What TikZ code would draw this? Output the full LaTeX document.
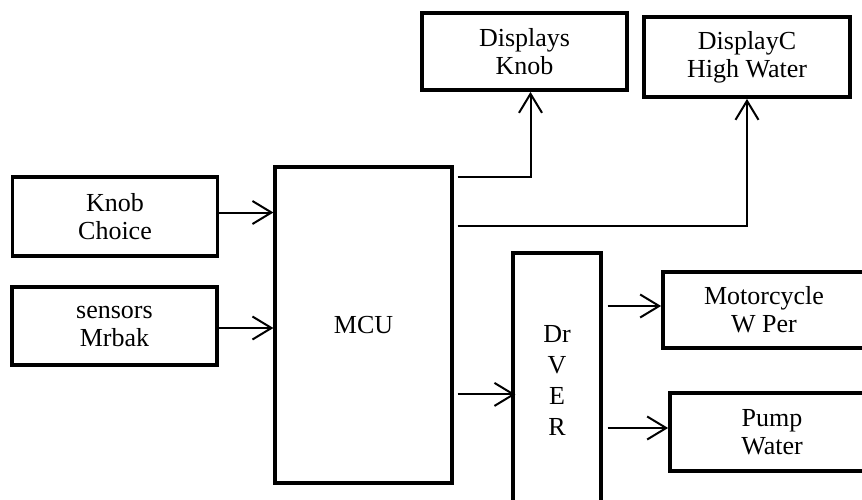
\documentclass[tikz,border=0pt]{standalone}
\usepackage{fontspec}
\setmainfont{Liberation Serif}
\usetikzlibrary{arrows.meta}

\begin{document}
\begin{tikzpicture}[x=1pt, y=-1pt,
    box/.style={draw, line width=3.8pt, align=center, inner sep=0pt,
        font=\fontsize{26}{28}\selectfont},
    tall/.style={draw, line width=3.2pt, align=center, inner sep=0pt,
        font=\fontsize{26}{31}\selectfont},
    link/.style={line width=2pt, -{Straight Barb[length=19pt, width=23pt, line width=2pt]}}]
    \useasboundingbox (0, 0) rectangle (862, 499);
    \clip (0, 0) rectangle (862, 499);

    % Inputs
    \node[box, minimum width=205pt, minimum height=79pt] (knob) at (115, 216.5) {Knob\\Choice};
    \node[box, minimum width=205pt, minimum height=78pt] (sens) at (114.5, 326) {sensors\\Mrbak};

    % Controller and driver
    \node[tall, minimum width=177pt, minimum height=316pt] (mcu) at (363.5, 325) {MCU};
    \node[tall, minimum width=88pt, minimum height=254pt] (drv) at (557, 380) {Dr\\V\\E\\R};

    % Displays
    \node[box, minimum width=205pt, minimum height=77pt] (disp) at (524.5, 51.5) {Displays\\Knob};
    \node[box, minimum width=206pt, minimum height=80pt] (dispc) at (747, 57) {DisplayC\\High Water};

    % Outputs
    \node[box, minimum width=202pt, minimum height=76pt] (moto) at (764, 310) {Motorcycle\\W Per};
    \node[box, minimum width=204pt, minimum height=78pt] (pump) at (772, 432) {Pump\\Water};

    % Arrows
    \draw[link] ([shift={(0,-4)}]knob.east) -- ([shift={(0,-4)}]knob.east -| mcu.west);
    \draw[link] ([shift={(0,2)}]sens.east) -- ([shift={(0,2)}]sens.east -| mcu.west);
    \draw[link] ([shift={(4,12)}]mcu.north east) -| ([shift={(6,0)}]disp.south);
    \draw[link] ([shift={(4,61)}]mcu.north east) -| (dispc.south);
    \draw[link] ([shift={(4,229)}]mcu.north east) -- ([shift={(4,229)}]mcu.north east -| drv.west);
    \draw[link] ([shift={(5,-4)}]drv.east |- moto.west) -- ([shift={(0,-4)}]moto.west);
    \draw[link] ([shift={(5,-4)}]drv.east |- pump.west) -- ([shift={(0,-4)}]pump.west);
\end{tikzpicture}
\end{document}
